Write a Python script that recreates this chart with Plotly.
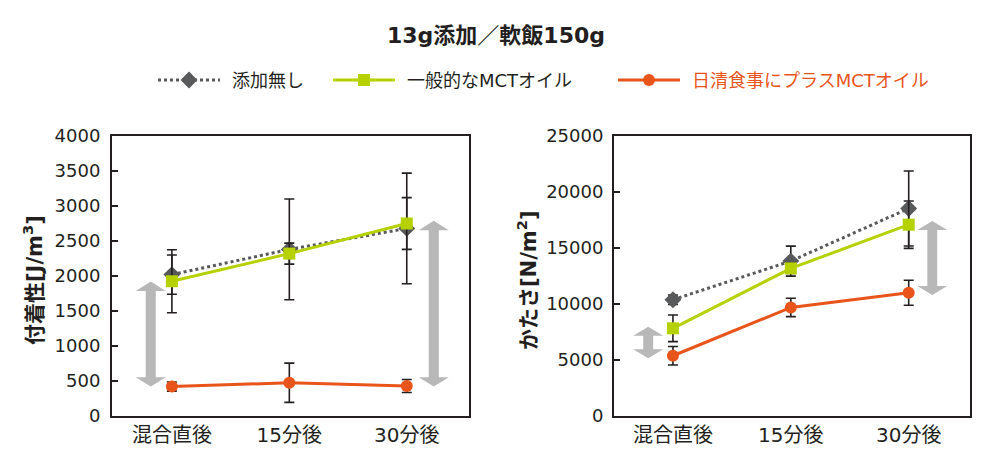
import plotly.graph_objects as go

categories = ["混合直後", "15分後", "30分後"]
series_names = ["添加無し", "一般的なMCTオイル", "日清食事にプラスMCTオイル"]

# 付着性 [J/m3]
adh_none = [2020, 2380, 2680]
adh_none_err = [280, 720, 790]
adh_mct = [1925, 2320, 2750]
adh_mct_err = [450, 150, 370]
adh_plus = [420, 475, 428]
adh_plus_err = [65, 280, 93]

# かたさ [N/m2]
hard_none = [10380, 13830, 18530]
hard_none_err = [420, 1340, 3350]
hard_mct = [7830, 13180, 17080]
hard_mct_err = [1190, 450, 2110]
hard_plus = [5380, 9690, 11000]
hard_plus_err = [820, 820, 1115]

adh_ticks = [0, 500, 1000, 1500, 2000, 2500, 3000, 3500, 4000]
hard_ticks = [0, 5000, 10000, 15000, 20000, 25000]

# gray double arrows: (x position, low tip, high tip)
adh_arrows = [(-0.18, 420, 1920), (2.23, 420, 2790)]
hard_arrows = [(-0.21, 5150, 7970), (2.20, 10800, 17410)]

# page body has an 8px margin; figure fills the rest of the 1000x465 window
OFF = 8
W, H = 1000 - OFF, 465 - OFF

def fx(px):
    return (px - OFF) / W

def fy(py):
    return 1 - (py - OFF) / H

GRAY = "#58595b"
GREEN = "#b5d100"
ORANGE = "#e8541a"
TXT = "#231f20"
ARROW = "#b8b8b8"
FONT = "DejaVu Sans, Noto Sans CJK JP"

styles = [
    dict(line=dict(color=GRAY, width=3, dash="dot"), marker=dict(symbol="diamond", size=13, color=GRAY)),
    dict(line=dict(color=GREEN, width=3), marker=dict(symbol="square", size=12, color=GREEN)),
    dict(line=dict(color=ORANGE, width=3), marker=dict(symbol="circle", size=12, color=ORANGE)),
]

fig = go.Figure()
xs = list(range(len(categories)))

def add_set(sets, xa, ya):
    for st, (v, e) in zip(styles, sets):
        fig.add_trace(go.Scatter(
            x=xs, y=v, mode="lines+markers", line=st["line"], marker=st["marker"],
            error_y=dict(type="data", array=e, color=TXT, thickness=1.6, width=5),
            showlegend=False, xaxis=xa, yaxis=ya, hoverinfo="skip",
        ))

add_set([(adh_none, adh_none_err), (adh_mct, adh_mct_err), (adh_plus, adh_plus_err)], "x", "y")
add_set([(hard_none, hard_none_err), (hard_mct, hard_mct_err), (hard_plus, hard_plus_err)], "x2", "y2")

# legend drawn on a hidden window-pixel overlay axis
legend_y = 80
legend_items = [(158, 220, 230), (333, 395, 405), (618, 680, 690)]
legend_colors = [TXT, TXT, ORANGE]
annotations = []
for st, (x0, x1, tx), name, col in zip(styles, legend_items, series_names, legend_colors):
    fig.add_trace(go.Scatter(
        x=[x0, x1], y=[legend_y] * 2, mode="lines", line=st["line"],
        showlegend=False, xaxis="x3", yaxis="y3", hoverinfo="skip",
    ))
    fig.add_trace(go.Scatter(
        x=[(x0 + x1) / 2], y=[legend_y], mode="markers", marker=st["marker"],
        showlegend=False, xaxis="x3", yaxis="y3", hoverinfo="skip",
    ))
    annotations.append(dict(text=name, xref="x3", yref="y3", x=tx, y=legend_y, showarrow=False,
                            xanchor="left", yanchor="middle",
                            font=dict(family=FONT, size=18, color=col)))

def arrow_path(c, y0, y1, hw, sw, h):
    pts = [(c, y1), (c + hw, y1 - h), (c + sw, y1 - h), (c + sw, y0 + h), (c + hw, y0 + h),
           (c, y0), (c - hw, y0 + h), (c - sw, y0 + h), (c - sw, y1 - h), (c - hw, y1 - h)]
    return "M " + " L ".join(f"{x},{y}" for x, y in pts) + " Z"

shapes = []
for c, y0, y1 in adh_arrows:
    shapes.append(dict(type="path", xref="x", yref="y", path=arrow_path(c, y0, y1, 0.128, 0.043, 135),
                       fillcolor=ARROW, line=dict(width=0), layer="below"))
for c, y0, y1 in hard_arrows:
    shapes.append(dict(type="path", xref="x2", yref="y2", path=arrow_path(c, y0, y1, 0.127, 0.042, 800),
                       fillcolor=ARROW, line=dict(width=0), layer="below"))

axis_common = dict(showgrid=False, zeroline=False, showline=True, mirror=True, linecolor=TXT,
                   linewidth=2, automargin=False)
xtick = dict(ticks="", tickfont=dict(family=FONT, size=20, color=TXT), ticklabelstandoff=0)
ytick = dict(ticks="inside", ticklen=6, tickwidth=1.5, tickcolor=TXT, tickformat="d",
             tickfont=dict(family=FONT, size=18, color=TXT))

ydom = [fy(416), fy(136)]

fig.update_layout(
    width=W, height=H, margin=dict(l=0, r=0, t=0, b=0, autoexpand=False),
    paper_bgcolor="white", plot_bgcolor="rgba(0,0,0,0)",
    font=dict(family=FONT, color=TXT),
    shapes=shapes, showlegend=False,
    xaxis=dict(domain=[fx(112), fx(469)], range=[-0.51, 2.53], tickvals=xs, ticktext=categories,
               anchor="y", **axis_common, **xtick),
    yaxis=dict(domain=ydom, range=[0, 4000], tickvals=adh_ticks,
               ticklabelstandoff=6, anchor="x", **axis_common, **ytick),
    xaxis2=dict(domain=[fx(614), fx(970)], range=[-0.5, 2.52], tickvals=xs, ticktext=categories,
                anchor="y2", **axis_common, **xtick),
    yaxis2=dict(domain=ydom, range=[0, 25000], tickvals=hard_ticks,
                ticklabelstandoff=5, anchor="x2", **axis_common, **ytick),
    xaxis3=dict(domain=[0, 1], range=[OFF, OFF + W], visible=False, fixedrange=True, anchor="y3"),
    yaxis3=dict(domain=[0, 1], range=[OFF + H, OFF], visible=False, fixedrange=True, anchor="x3"),
    annotations=annotations + [
        dict(text="<b>13g添加／軟飯150g</b>", xref="x3", yref="y3", x=495.5, y=35,
             showarrow=False, font=dict(family=FONT, size=22, color=TXT), xanchor="center", yanchor="middle"),
        dict(text="<b>付着性[J/m<sup>3</sup>]</b>", xref="x3", yref="y3", x=33, y=280,
             textangle=-90, showarrow=False, font=dict(family=FONT, size=21, color=TXT),
             xanchor="center", yanchor="middle"),
        dict(text="<b>かたさ[N/m<sup>2</sup>]</b>", xref="x3", yref="y3", x=527, y=280,
             textangle=-90, showarrow=False, font=dict(family=FONT, size=21, color=TXT),
             xanchor="center", yanchor="middle"),
    ],
)

fig.write_html("out.html")
